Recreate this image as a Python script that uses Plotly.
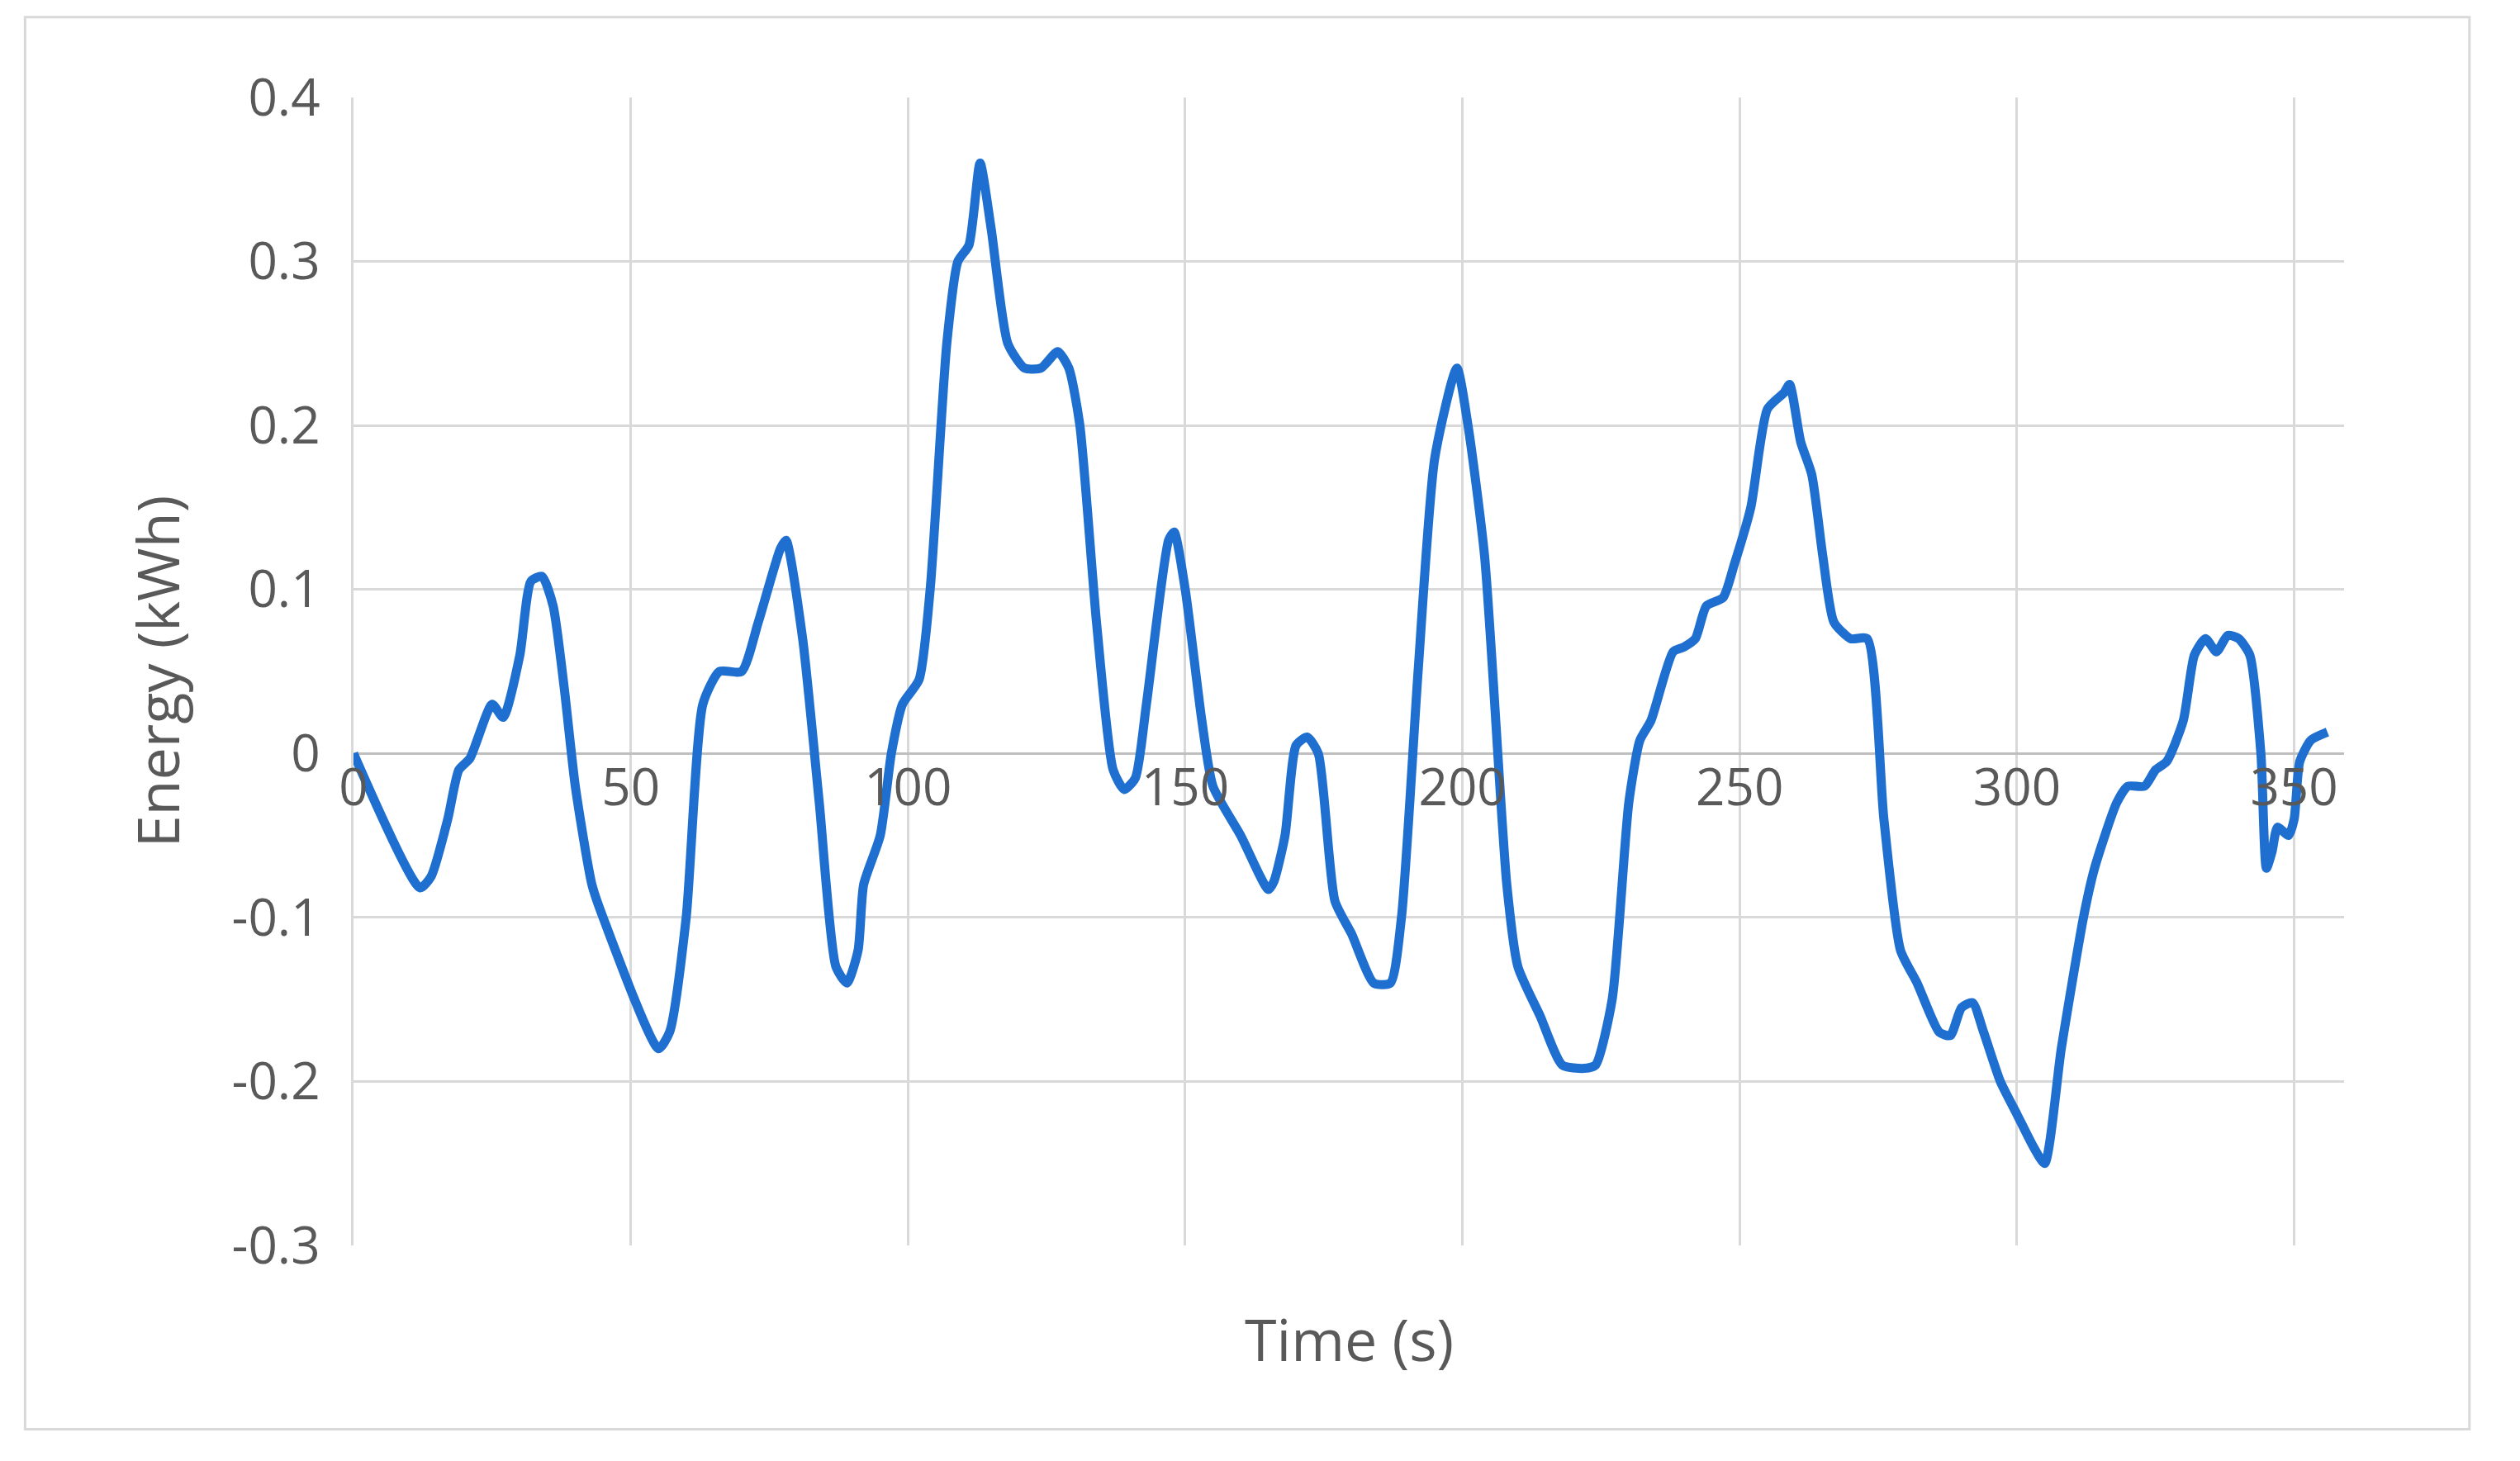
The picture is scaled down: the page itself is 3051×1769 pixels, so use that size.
import plotly.graph_objects as go

time_s = [0,12,14,17,19,21,25,27,30,32,34,36,38,40,43,45,55,57,60,63,66,70,73,77,78,81,84,87,89,91,92,95,97,99,102,104,107,109,111,113,115,118,121,124,127,129,131,134,137,139,141,143,147,148,150,153,155,160,165,166,168,170,172,174,177,180,184,187,189,192,195,199,201,204,208,210,214,218,222,224,227,230,232,234,238,240,242,244,247,249,252,255,258,259,261,263,265,267,270,273,276,279,282,286,288,290,292,294,297,300,303,305,308,312,314,318,320,323,325,327,330,332,334,336,338,340,342,344,345,346,347,349,350,351,353,356,359]
energy_kwh = [0,-0.082,-0.075,-0.04,-0.01,-0.003,0.03,0.022,0.06,0.105,0.108,0.09,0.04,-0.02,-0.08,-0.1,-0.18,-0.17,-0.1,0.03,0.05,0.05,0.08,0.125,0.13,0.07,-0.03,-0.13,-0.14,-0.12,-0.08,-0.05,0.0,0.03,0.045,0.1,0.25,0.3,0.31,0.36,0.32,0.25,0.235,0.235,0.245,0.235,0.2,0.08,-0.01,-0.022,-0.015,0.03,0.13,0.135,0.1,0.02,-0.02,-0.05,-0.083,-0.078,-0.05,0.005,0.01,0.0,-0.09,-0.11,-0.14,-0.14,-0.1,0.05,0.18,0.235,0.2,0.12,-0.08,-0.13,-0.16,-0.19,-0.192,-0.19,-0.15,-0.03,0.008,0.02,0.062,0.065,0.07,0.09,0.095,0.115,0.15,0.21,0.22,0.225,0.19,0.17,0.12,0.08,0.07,0.07,-0.04,-0.12,-0.14,-0.17,-0.172,-0.155,-0.152,-0.17,-0.2,-0.22,-0.24,-0.25,-0.18,-0.1,-0.07,-0.03,-0.02,-0.02,-0.01,-0.005,0.02,0.06,0.07,0.062,0.072,0.07,0.06,0.0,-0.07,-0.06,-0.045,-0.05,-0.04,-0.005,0.008,0.013]
y_tickvals = [-0.3, -0.2, -0.1, 0, 0.1, 0.2, 0.3, 0.4]
y_ticktext = ["-0.3", "-0.2", "-0.1", "0", "0.1", "0.2", "0.3", "0.4"]

fig = go.Figure(go.Scatter(x=time_s, y=energy_kwh, mode="lines",
                           line=dict(color="#1f6fd0", width=11, shape="spline", smoothing=0.6)))
grey = "#595959"
fig.update_layout(
    width=3000, height=1740, autosize=False, plot_bgcolor="white", paper_bgcolor="white",
    margin=dict(l=420, r=170, t=110, b=240), showlegend=False,
    font=dict(family="Open Sans", color=grey),
    xaxis=dict(range=[0, 359], dtick=50, showgrid=True, gridcolor="#d9d9d9", gridwidth=3,
               anchor="free", position=0.3/0.7, showline=False, zeroline=False,
               tickfont=dict(size=62, color=grey), ticks=""),
    yaxis=dict(range=[-0.3, 0.4], tickvals=y_tickvals, ticktext=y_ticktext,
               showgrid=True, gridcolor="#d9d9d9", gridwidth=3,
               zeroline=True, zerolinecolor="#bfbfbf", zerolinewidth=3,
               showline=True, linecolor="#d9d9d9", linewidth=3,
               tickfont=dict(size=62, color=grey), ticks="", ticklabelstandoff=25,
               title=dict(text="Energy (kWh)", font=dict(size=70, color=grey), standoff=40)),
    annotations=[dict(text="Time (s)", xref="paper", yref="paper", x=0.5, y=-0.045,
                      yanchor="top", showarrow=False, font=dict(size=70, color=grey))],
    shapes=[dict(type="rect", xref="paper", yref="paper", x0=-0.165, x1=1.063,
                 y0=-0.16, y1=1.07, line=dict(color="#d9d9d9", width=3))],
)
fig.write_html("out.html")
